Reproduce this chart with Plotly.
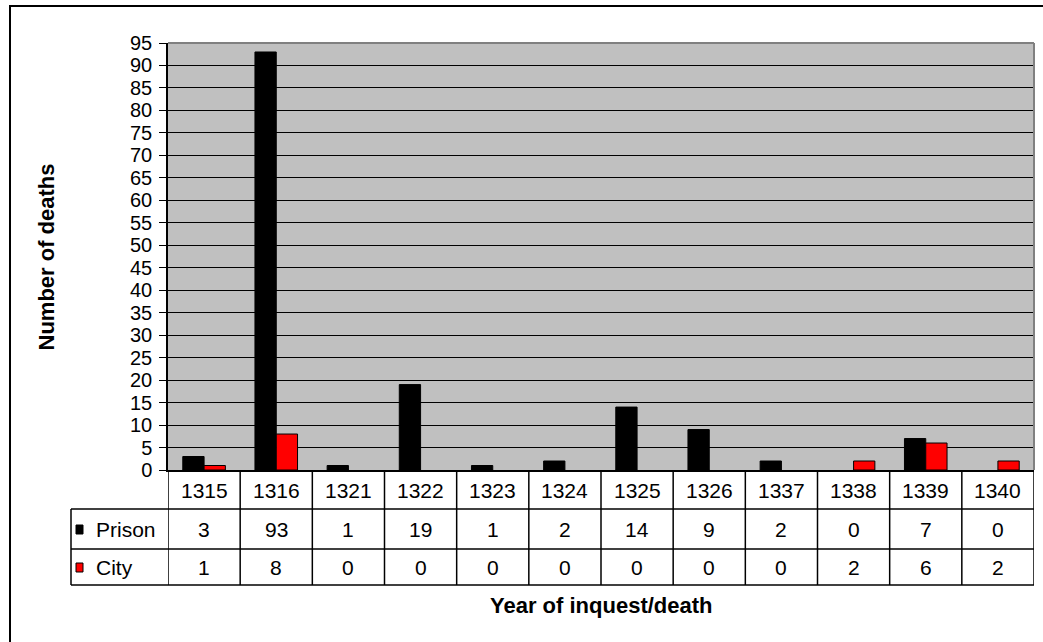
import plotly.graph_objects as go

years = ["1315", "1316", "1321", "1322", "1323", "1324", "1325", "1326", "1337", "1338", "1339", "1340"]
prison = [3, 93, 1, 19, 1, 2, 14, 9, 2, 0, 7, 0]
city = [1, 8, 0, 0, 0, 0, 0, 0, 0, 2, 6, 2]
series_names = ["Prison", "City"]
series_colors = ["#000000", "#FF0000"]
y_ticks = list(range(0, 100, 5))

W, H = 1043, 642
L, R, T, B = 168, 1034, 43, 470
PW, PH = R - L, B - T

def px_x(px):
    return (px - L) / PW

def px_y(py):
    return (B - py) / PH

FONT = "Arial, 'Liberation Sans', sans-serif"

fig = go.Figure()
for name, vals, col in zip(series_names, [prison, city], series_colors):
    fig.add_trace(go.Bar(
        x=years, y=vals, name=name,
        marker=dict(color=col,
                    line=dict(color="#000000", width=[1 if v else 0 for v in vals])),
        showlegend=False,
    ))

shapes = []
# outer chart border
shapes.append(dict(type="rect", xref="paper", yref="paper",
                   x0=px_x(10), x1=px_x(1060), y0=px_y(6), y1=px_y(660),
                   line=dict(color="#000000", width=2), fillcolor="rgba(0,0,0,0)", layer="below"))
# plot area top and right gray border
shapes.append(dict(type="line", xref="paper", yref="paper", x0=0, x1=1, y0=1, y1=1,
                   line=dict(color="#808080", width=2)))
shapes.append(dict(type="line", xref="paper", yref="paper", x0=1, x1=1, y0=0, y1=1,
                   line=dict(color="#808080", width=2)))

row_lines_px = [509, 549, 585]
for ry in row_lines_px:
    shapes.append(dict(type="line", xref="paper", yref="paper",
                       x0=px_x(71), x1=1, y0=px_y(ry), y1=px_y(ry),
                       line=dict(color="#000000", width=1.5)))
# left border of row-label column
shapes.append(dict(type="line", xref="paper", yref="paper",
                   x0=px_x(71), x1=px_x(71), y0=px_y(509), y1=px_y(585),
                   line=dict(color="#000000", width=1.5)))
# vertical cell dividers at category boundaries
for k in range(len(years) + 1):
    shapes.append(dict(type="line", xref="x", yref="paper",
                       x0=k - 0.5, x1=k - 0.5, y0=0, y1=px_y(585),
                       line=dict(color="#000000", width=1.5)))

annotations = []
row_centers = [490, 529.5, 567.5]
cell_font = dict(size=21, color="#000000", family=FONT)
for i, yr in enumerate(years):
    for rc, txt in zip(row_centers, [yr, str(prison[i]), str(city[i])]):
        annotations.append(dict(x=i, xref="x", y=px_y(rc), yref="paper",
                                xanchor="center", yanchor="middle",
                                text=txt, showarrow=False, font=cell_font))

for name, col, cy in zip(series_names, series_colors, row_centers[1:]):
    shapes.append(dict(type="rect", xref="paper", yref="paper",
                       x0=px_x(76), x1=px_x(83), y0=px_y(cy + 4.5), y1=px_y(cy - 4.5),
                       fillcolor=col, line=dict(color="#000000", width=1)))
    annotations.append(dict(x=px_x(94), xref="paper", y=px_y(cy), yref="paper",
                            text=name, showarrow=False, xanchor="left", yanchor="middle",
                            font=cell_font))

annotations.append(dict(x=0.5, xref="paper", y=px_y(605), yref="paper",
                        xanchor="center", yanchor="middle",
                        text="<b>Year of inquest/death</b>", showarrow=False,
                        font=dict(size=22, color="#000000", family=FONT)))
annotations.append(dict(x=px_x(46), xref="paper", y=0.5, yref="paper",
                        xanchor="center", yanchor="middle",
                        text="<b>Number of deaths</b>", showarrow=False, textangle=-90,
                        font=dict(size=22, color="#000000", family=FONT)))

fig.update_layout(
    width=W, height=H,
    margin=dict(l=L, r=W - R, t=T, b=H - B, pad=0),
    paper_bgcolor="#FFFFFF",
    plot_bgcolor="#C0C0C0",
    barmode="group",
    bargap=0.41,
    bargroupgap=0,
    font=dict(family=FONT, color="#000000"),
    shapes=shapes,
    annotations=annotations,
    xaxis=dict(type="category", range=[-0.5, len(years) - 0.5], showticklabels=False,
               showgrid=False, zeroline=False,
               showline=True, linecolor="#000000", linewidth=1.5, ticks=""),
    yaxis=dict(range=[0, 95], tickvals=y_ticks, ticktext=[str(v) for v in y_ticks],
               showgrid=True, gridcolor="#000000", gridwidth=1.2, zeroline=False,
               showline=True, linecolor="#000000", linewidth=1.5,
               ticks="outside", ticklen=7, tickcolor="#000000", tickwidth=1.2,
               ticklabelstandoff=3,
               tickfont=dict(size=20, color="#000000", family=FONT)),
)

fig.write_html("out.html", config={"displayModeBar": False},
               post_script="document.body.style.margin='0px';document.body.style.padding='0px';")
